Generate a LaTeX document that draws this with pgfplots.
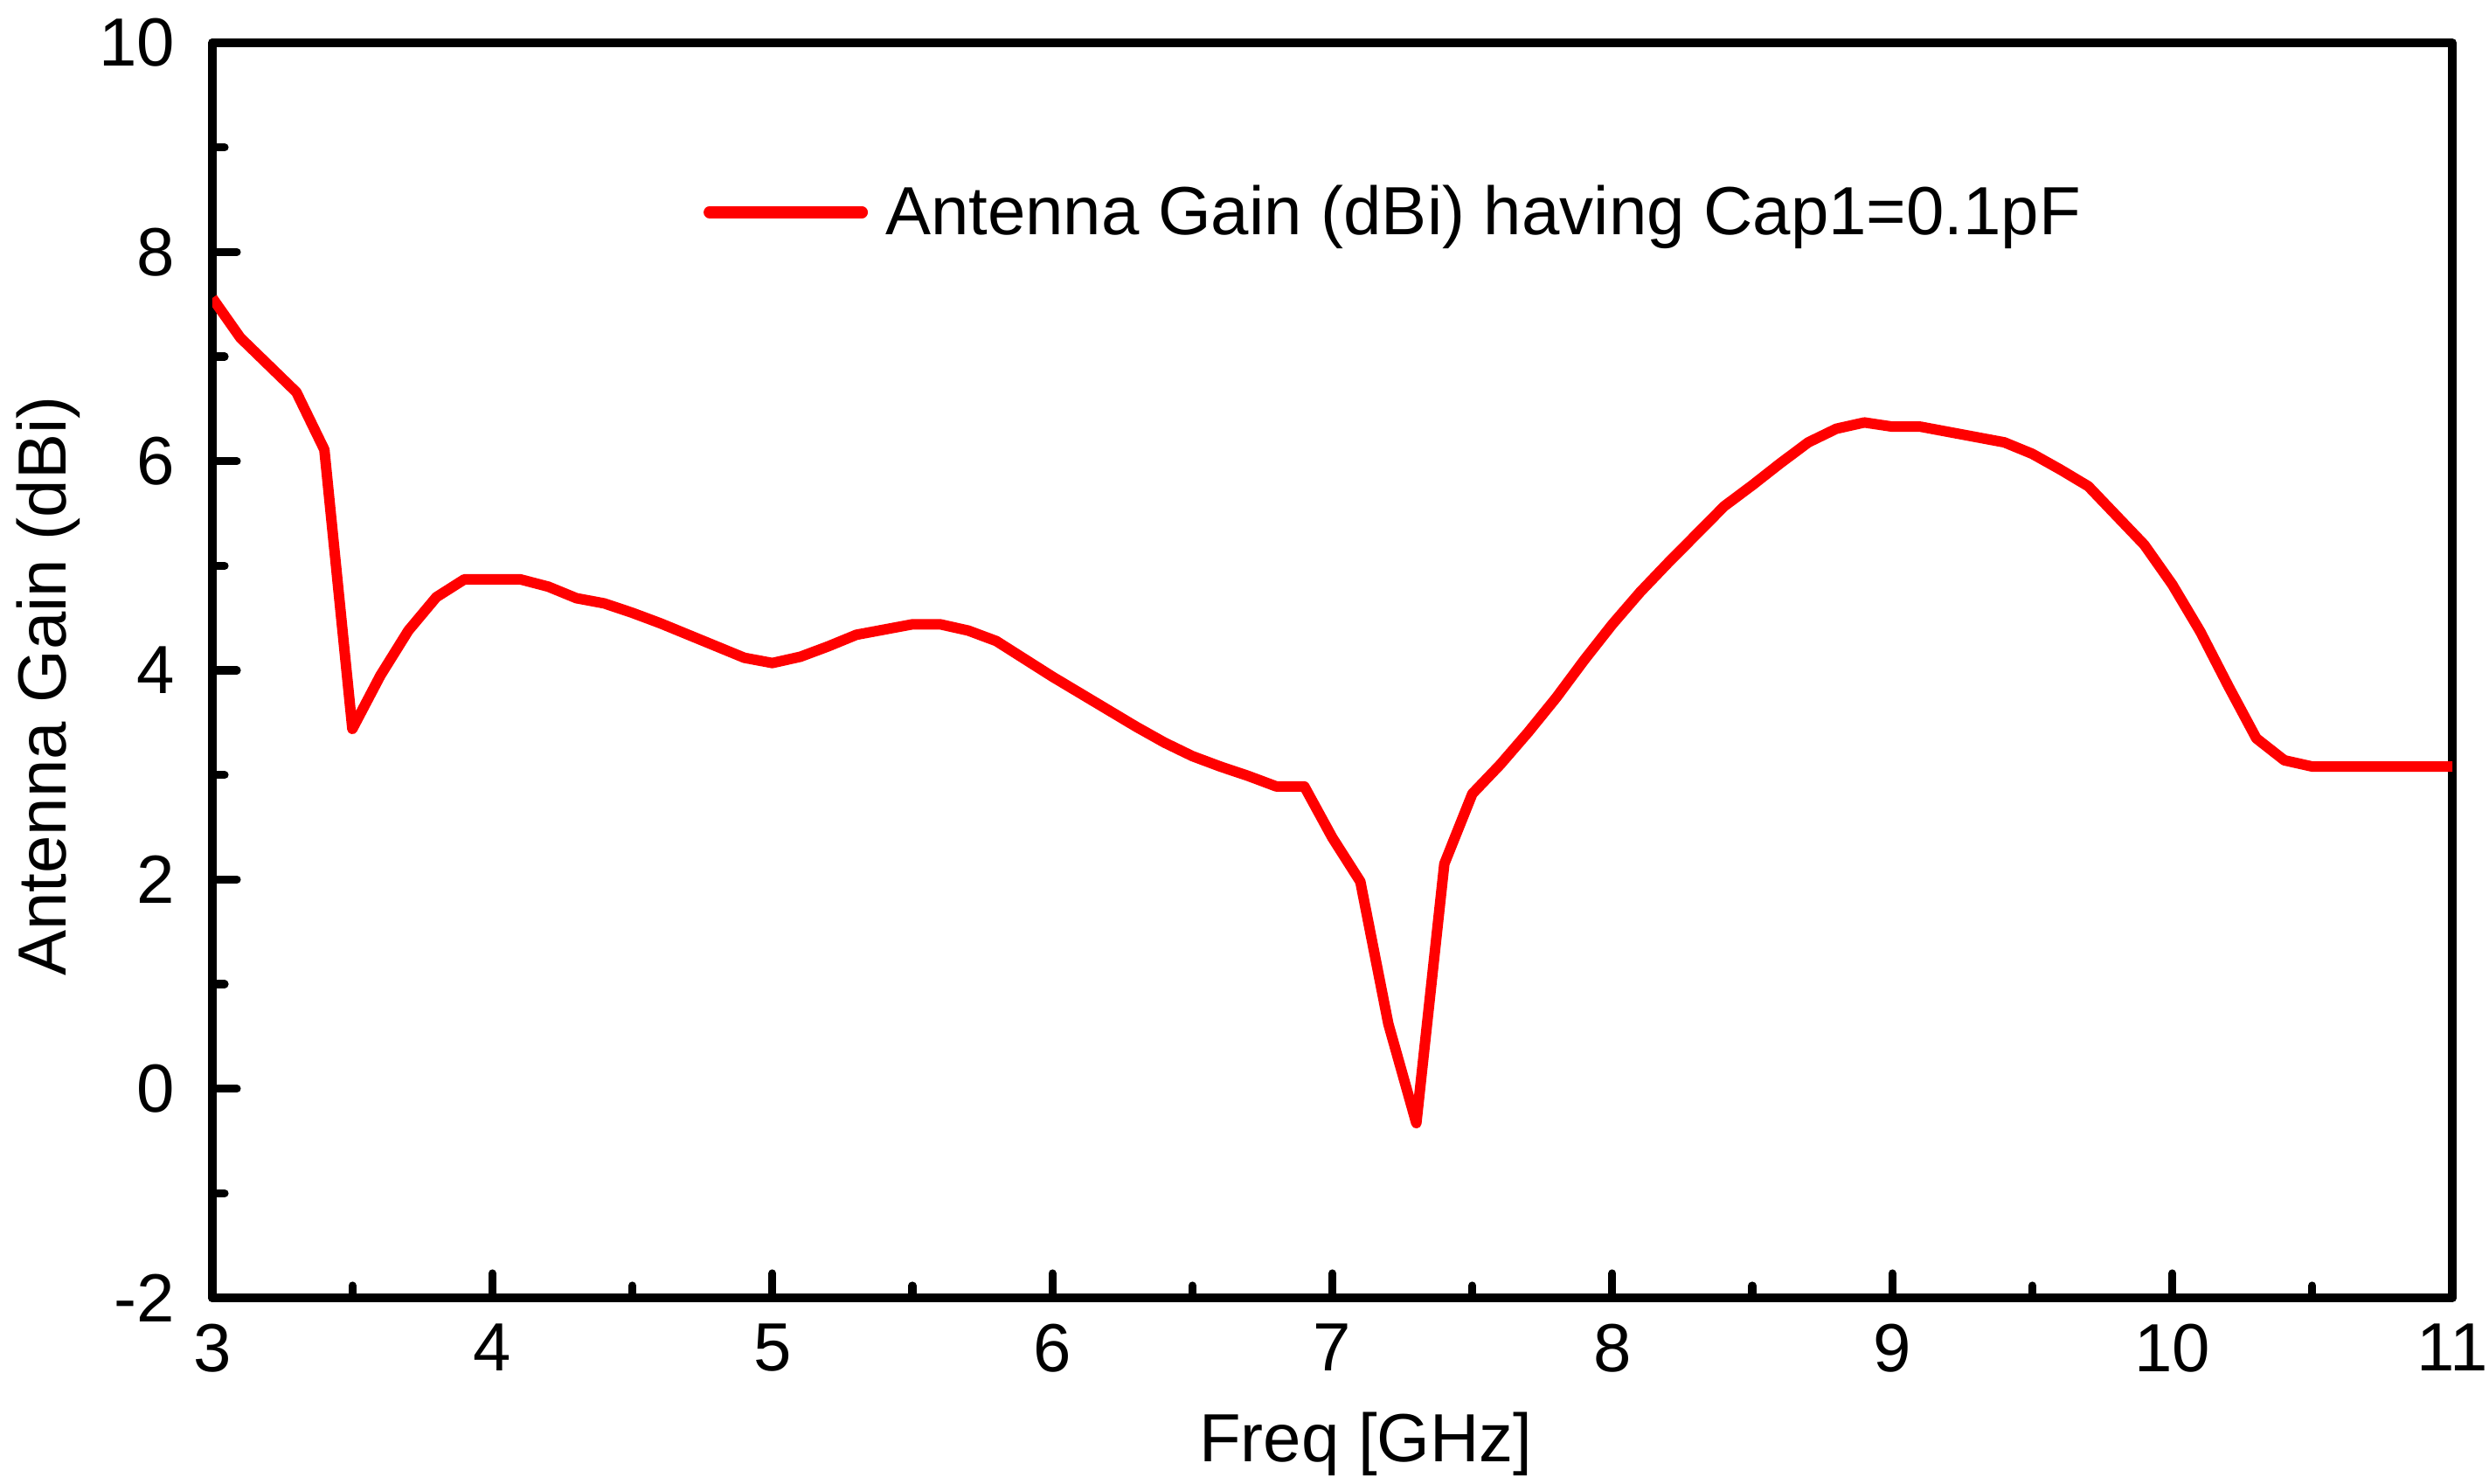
\documentclass[border=0pt]{standalone}
\usepackage{pgfplots}
\pgfplotsset{compat=1.18}
\usepackage{fontspec}
\setmainfont{Liberation Sans}
\begin{document}
\begin{tikzpicture}
\path[use as bounding box] (0,0) rectangle (712pt,424.25pt);
\begin{axis}[
  at={(60.75pt,53pt)}, anchor=south west,
  scale only axis, width=640.75pt, height=359pt,
  xmin=3, xmax=11, ymin=-2, ymax=10,
  xtick={3,4,...,11}, ytick={-2,0,...,10},
  minor x tick num=1, minor y tick num=1,
  xtick pos=bottom, ytick pos=left,
  tick align=inside,
  major tick length=7pt, minor tick length=3.5pt,
  every tick/.style={black, line width=2.3pt, line cap=round},
  axis line style={line width=2.5pt, line join=round},
  /pgf/number format/assume math mode=true,
  tick label style={font=\fontsize{19.5}{23}\selectfont, inner sep=0pt},
  xticklabel style={yshift=-7.25pt},
  yticklabel style={xshift=-10.5pt},
  label style={font=\fontsize{19.5}{23}\selectfont},
  xlabel={Freq [GHz]},
  ylabel={Antenna Gain (dBi)},
  xlabel style={at={(axis description cs:0.515,-0.1163)}, anchor=center},
  ylabel style={at={(axis description cs:-0.0734,0.4875)}, anchor=center},
  legend style={draw=none, fill=none, at={(axis description cs:0.219,0.865)}, anchor=west,
    inner sep=0pt, column sep=5pt,
    nodes={inner sep=0pt, font=\fontsize{19.5}{23}\selectfont}},
  legend image code/.code={\draw[#1, line width=3.4pt, line cap=round] (1.7pt,0pt) -- (45.3pt,0pt);},
]
\addplot[color=red, line width=3pt, line join=round, mark=none] coordinates {
(3.0,7.56) (3.1,7.18) (3.2,6.92) (3.3,6.66) (3.4,6.11) (3.5,3.44) (3.6,3.95)
(3.7,4.38) (3.8,4.70) (3.9,4.87) (4.0,4.87) (4.1,4.87) (4.2,4.80) (4.3,4.69)
(4.4,4.64) (4.5,4.55) (4.6,4.45) (4.7,4.34) (4.8,4.23) (4.9,4.12) (5.0,4.07)
(5.1,4.13) (5.2,4.23) (5.3,4.34) (5.4,4.39) (5.5,4.44) (5.6,4.44) (5.7,4.38)
(5.8,4.28) (5.9,4.11) (6.0,3.94) (6.1,3.78) (6.2,3.62) (6.3,3.46) (6.4,3.31)
(6.5,3.18) (6.6,3.08) (6.7,2.99) (6.8,2.89) (6.9,2.89) (7.0,2.40) (7.1,1.98)
(7.2,0.62) (7.3,-0.33) (7.4,2.15) (7.5,2.82) (7.6,3.10) (7.7,3.41) (7.8,3.74)
(7.9,4.10) (8.0,4.44) (8.1,4.75) (8.2,5.03) (8.3,5.30) (8.4,5.57) (8.5,5.77)
(8.6,5.98) (8.7,6.18) (8.8,6.31) (8.9,6.37) (9.0,6.33) (9.1,6.33) (9.2,6.28)
(9.3,6.23) (9.4,6.18) (9.5,6.07) (9.6,5.92) (9.7,5.76) (9.8,5.48) (9.9,5.20)
(10.0,4.82) (10.1,4.37) (10.2,3.85) (10.3,3.35) (10.4,3.14) (10.5,3.08)
(10.6,3.08) (10.7,3.08) (10.8,3.08) (10.9,3.08) (11.0,3.08)
};
\addlegendentry{Antenna Gain (dBi) having Cap1=0.1pF}
\end{axis}
\end{tikzpicture}
\end{document}
